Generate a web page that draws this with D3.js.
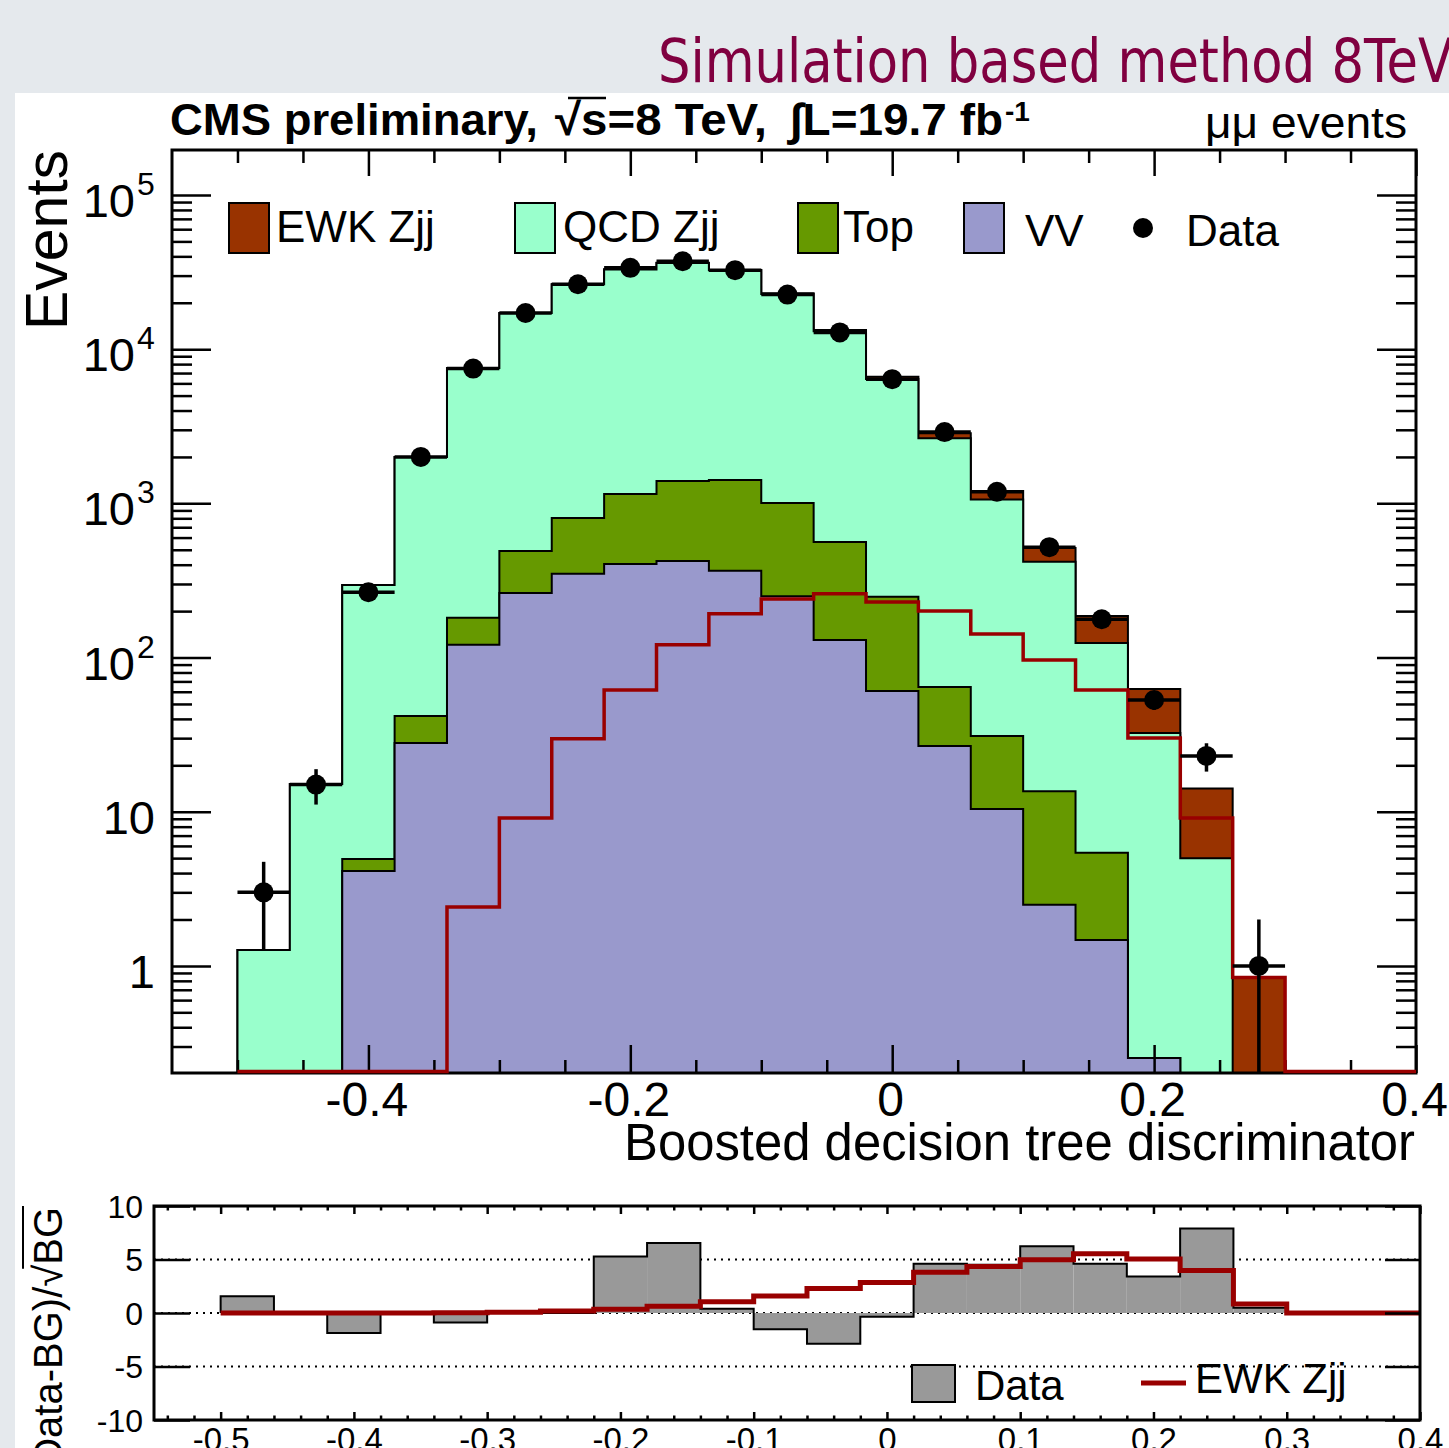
<!DOCTYPE html>
<html><head><meta charset="utf-8">
<script src="https://cdn.jsdelivr.net/npm/d3@7"></script>
<style>
body{margin:0;background:#e5e9ed;}
svg{display:block;font-family:'Liberation Sans',Arial,Helvetica,sans-serif;}
</style>
</head><body>
<svg id="c" width="1449" height="1448"></svg>
<script>
// ---------------- data ----------------
const binLow = [-0.50,-0.46,-0.42,-0.38,-0.34,-0.30,-0.26,-0.22,-0.18,-0.14,-0.10,-0.06,-0.02,0.02,0.06,0.10,0.14,0.18,0.22,0.26];
const binWidth = 0.04;
const ewkZjj = [0,0,0,0,2.41,9.12,29.7,61.6,121,192,240,259,229,200,142,96.5,61.6,30.1,9.12,0.84];
const qcdZjj = [1.27,15.1,291,1958,7367,16670,25530,31760,34870,31050,21780,12510,6158,2580,1030,404,119,32.1,5.0,0];
const topBkg = [0,0,0.81,13.9,60,229,455,746,974,1054,756,432,187,37.8,20.6,11.1,3.94,0,0,0];
const vvBkg  = [0,0,4.13,27.9,121,262,349,405,423,365,250,130,60.7,26.7,10.4,2.49,1.47,0.253,0,0];
const dataCounts = [3,15,265,2000,7480,17160,26350,33700,37200,32550,22600,12850,6390,2900,1190,520,177,53,23,1];
// lower panel: (Data-BG)/sqrt(BG) and EWK/sqrt(BG)
const sigData = [1.57,0,-1.88,0,-0.88,0,0,5.29,6.54,0.4,-1.53,-2.88,-0.35,4.6,4.5,6.23,4.6,3.41,7.89,0.5];
const sigEwk  = [0,0,0,0,0.03,0.07,0.18,0.34,0.64,1.05,1.6,2.3,2.85,3.8,4.35,4.98,5.54,5.04,3.97,0.85];
// ticks
const xMainMajor = [-0.4,-0.2,0,0.2,0.4];
const xMainMinor = [-0.5,-0.45,-0.35,-0.3,-0.25,-0.15,-0.1,-0.05,0.05,0.1,0.15,0.25,0.3,0.35];
const xMainLabels = ["-0.4","-0.2","0","0.2","0.4"];
const yMainMajor = [1,10,100,1000,10000,100000];
const yMainExp = [null,null,"2","3","4","5"];
const yMainBase = ["1","10","10","10","10","10"];
const xRatioMajor = [-0.5,-0.4,-0.3,-0.2,-0.1,0,0.1,0.2,0.3,0.4];
const xRatioLabels = ["-0.5","-0.4","-0.3","-0.2","-0.1","0","0.1","0.2","0.3","0.4"];
const yRatioTicks = [-10,-5,0,5,10];
const yRatioLabels = ["-10","-5","0","5","10"];
const yRatioGrid = [-5,0,5];

const C = {ewk:'#993300', qcd:'#99ffcc', top:'#669900', vv:'#9999cc', red:'#990000', gray:'#999999'};

// ---------------- canvas ----------------
const W=1449, H=1448;
const svg = d3.select('#c');
svg.append('rect').attr('width',W).attr('height',H).attr('fill','#e5e9ed');
svg.append('rect').attr('x',15).attr('y',93).attr('width',W-15).attr('height',H-93).attr('fill','#fff');

// title
svg.append('text').attr('x',658).attr('y',82).attr('font-size',60).attr('fill','#800040')
  .attr('font-family',"'DejaVu Sans','Liberation Sans',sans-serif")
  .attr('textLength',795).attr('lengthAdjust','spacingAndGlyphs')
  .text('Simulation based method 8TeV');

// ---------------- main panel ----------------
const PL=172, PR=1416, PT=150, PB=1073;
const x = d3.scaleLinear().domain([-0.55,0.4]).range([PL,PR]);
const y = d3.scaleLog().domain([0.202,1.958e5]).range([PB,PT]).clamp(true);
const yv = v => v>0 ? y(v) : PB;

svg.append('clipPath').attr('id','clipMain').append('rect')
  .attr('x',PL).attr('y',PT).attr('width',PR-PL).attr('height',PB-PT);

const cumVV = vvBkg.slice();
const cumTop = cumVV.map((v,i)=>v+topBkg[i]);
const cumQCD = cumTop.map((v,i)=>v+qcdZjj[i]);
const cumAll = cumQCD.map((v,i)=>v+ewkZjj[i]);

function stepPath(vals, xs, ys, base, extendTo){
  const n = vals.length;
  let p = `M${xs(binLow[0])},${base}`;
  vals.forEach((v,i)=>{
    const x0=xs(binLow[i]), x1=xs(binLow[i]+binWidth), yy=ys(v);
    p += `L${x0},${yy}L${x1},${yy}`;
  });
  p += `L${xs(binLow[n-1]+binWidth)},${base}`;
  if(extendTo!==undefined) p += `L${xs(extendTo)},${base}`;
  return p;
}

const gStack = svg.append('g').attr('clip-path','url(#clipMain)');
[[cumAll,C.ewk],[cumQCD,C.qcd],[cumTop,C.top],[cumVV,C.vv]].forEach(([vals,col])=>{
  gStack.append('path').attr('d',stepPath(vals,x,yv,PB)+'Z')
    .attr('fill',col).attr('stroke','#000').attr('stroke-width',2).attr('stroke-linejoin','miter');
});

// axes (ticks) main
function styleAxis(g){ g.select('.domain').remove(); g.selectAll('line').attr('stroke','#000').attr('stroke-width',2.5); }
svg.append('g').attr('transform',`translate(0,${PB})`).call(d3.axisTop(x).tickValues(xMainMajor).tickSize(28).tickFormat('')).call(styleAxis);
svg.append('g').attr('transform',`translate(0,${PB})`).call(d3.axisTop(x).tickValues(xMainMinor).tickSize(13).tickFormat('')).call(styleAxis);
svg.append('g').attr('transform',`translate(0,${PT})`).call(d3.axisBottom(x).tickValues(xMainMajor).tickSize(26).tickFormat('')).call(styleAxis);
svg.append('g').attr('transform',`translate(0,${PT})`).call(d3.axisBottom(x).tickValues(xMainMinor).tickSize(13).tickFormat('')).call(styleAxis);

const yMinor = [];
[-1,0,1,2,3,4,5].forEach(k=>{ for(let m=2;m<=9;m++){ const v=m*Math.pow(10,k); if(v>0.202 && v<1.958e5) yMinor.push(v);} });
svg.append('g').attr('transform',`translate(${PL},0)`).call(d3.axisRight(y).tickValues(yMainMajor).tickSize(39).tickFormat('')).call(styleAxis);
svg.append('g').attr('transform',`translate(${PL},0)`).call(d3.axisRight(y).tickValues(yMinor).tickSize(20).tickFormat('')).call(styleAxis);
svg.append('g').attr('transform',`translate(${PR},0)`).call(d3.axisLeft(y).tickValues(yMainMajor).tickSize(39).tickFormat('')).call(styleAxis);
svg.append('g').attr('transform',`translate(${PR},0)`).call(d3.axisLeft(y).tickValues(yMinor).tickSize(20).tickFormat('')).call(styleAxis);

// x labels main
const gxl = svg.append('g').attr('transform',`translate(0,${PB})`)
  .call(d3.axisBottom(x).tickValues(xMainMajor).tickSize(0).tickFormat((d,i)=>xMainLabels[i]));
gxl.select('.domain').remove();
gxl.selectAll('text').attr('y',43).attr('dy',0).attr('x',-2).attr('font-size',48).attr('fill','#000')
  .attr('font-family',"'Liberation Sans',Arial,sans-serif");

// y labels main
yMainMajor.forEach((v,i)=>{
  const ty = y(v);
  if(yMainExp[i]){
    svg.append('text').attr('x',135).attr('y',ty+22).attr('text-anchor','end').attr('font-size',47).text(yMainBase[i]);
    svg.append('text').attr('x',137).attr('y',ty).attr('font-size',32).text(yMainExp[i]);
  } else {
    svg.append('text').attr('x',155).attr('y',ty+22).attr('text-anchor','end').attr('font-size',47).text(yMainBase[i]);
  }
});

// frame
svg.append('rect').attr('x',PL).attr('y',PT).attr('width',PR-PL).attr('height',PB-PT)
  .attr('fill','none').attr('stroke','#000').attr('stroke-width',3);

// EWK line
svg.append('path').attr('d',stepPath(ewkZjj,x,v=>v>0?y(v):PB-1.5,PB-1.5,0.4))
  .attr('fill','none').attr('stroke',C.red).attr('stroke-width',3.5).attr('stroke-linejoin','miter');

// data points
const gData = svg.append('g');
dataCounts.forEach((d,i)=>{
  const cx = x(binLow[i]+binWidth/2), e=Math.sqrt(d);
  gData.append('line').attr('x1',cx).attr('x2',cx).attr('y1',yv(d+e)).attr('y2',yv(d-e)).attr('stroke','#000').attr('stroke-width',3.5);
  gData.append('line').attr('x1',x(binLow[i])).attr('x2',x(binLow[i]+binWidth)).attr('y1',y(d)).attr('y2',y(d)).attr('stroke','#000').attr('stroke-width',3.5);
  gData.append('circle').attr('cx',cx).attr('cy',y(d)).attr('r',10).attr('fill','#000');
});

// legend main
const legItems = [
  {label:'EWK Zjj', col:C.ewk, bx:229, tx:276, base:242},
  {label:'QCD Zjj', col:C.qcd, bx:515, tx:563, base:242},
  {label:'Top', col:C.top, bx:798, tx:843, base:242},
  {label:'VV', col:C.vv, bx:964, tx:1025, base:246}
];
legItems.forEach(it=>{
  svg.append('rect').attr('x',it.bx).attr('y',203).attr('width',40).attr('height',50).attr('fill',it.col).attr('stroke','#000').attr('stroke-width',2);
  svg.append('text').attr('x',it.tx).attr('y',it.base).attr('font-size',44).text(it.label);
});
svg.append('circle').attr('cx',1143).attr('cy',228).attr('r',10).attr('fill','#000');
svg.append('text').attr('x',1186).attr('y',246).attr('font-size',44).text('Data');

// header
const hdr = svg.append('g').attr('font-weight','bold').attr('font-size',45);
hdr.append('text').attr('x',170).attr('y',135).attr('textLength',368).attr('lengthAdjust','spacingAndGlyphs').text('CMS preliminary,');
hdr.append('text').attr('x',555).attr('y',135).attr('textLength',212).attr('lengthAdjust','spacingAndGlyphs').text('\u221As=8 TeV,');
svg.append('line').attr('x1',568).attr('x2',606).attr('y1',98).attr('y2',98).attr('stroke','#000').attr('stroke-width',2.5);
hdr.append('text').attr('x',790).attr('y',135).attr('textLength',213).attr('lengthAdjust','spacingAndGlyphs').text('\u222BL=19.7 fb');
hdr.append('text').attr('x',1005).attr('y',121).attr('font-size',28).text('-1');
svg.append('text').attr('x',1205).attr('y',138).attr('font-size',44).attr('textLength',202).attr('lengthAdjust','spacingAndGlyphs').text('\u03BC\u03BC events');

// y title main
svg.append('text').attr('transform','translate(67,150) rotate(-90)').attr('text-anchor','end')
  .attr('font-size',60).attr('textLength',180).attr('lengthAdjust','spacingAndGlyphs').text('Events');
// x title main
svg.append('text').attr('x',624).attr('y',1160).attr('font-size',51)
  .attr('textLength',791).attr('lengthAdjust','spacingAndGlyphs').text('Boosted decision tree discriminator');

// ---------------- ratio panel ----------------
const RL=154, RR=1420, RT=1206, RB=1420;
const x2 = d3.scaleLinear().domain([-0.55,0.4]).range([RL,RR]);
const y2 = d3.scaleLinear().domain([-10,10]).range([RB,RT]);

// grid
yRatioGrid.forEach(v=>{
  svg.append('line').attr('x1',RL).attr('x2',RR).attr('y1',y2(v)).attr('y2',y2(v))
    .attr('stroke','#000').attr('stroke-width',2).attr('stroke-dasharray','2,5');
});
// bars
sigData.forEach((v,i)=>{
  if(v===0) return;
  svg.append('rect').attr('x',x2(binLow[i])).attr('width',x2(binLow[i]+binWidth)-x2(binLow[i]))
    .attr('y',Math.min(y2(v),y2(0))).attr('height',Math.abs(y2(v)-y2(0))).attr('fill',C.gray);
});
svg.append('path').attr('d',stepPath(sigData,x2,y2,y2(0))).attr('fill','none').attr('stroke','#000').attr('stroke-width',2);
// ewk ratio line
svg.append('path').attr('d',stepPath(sigEwk,x2,y2,y2(0),0.4)).attr('fill','none').attr('stroke',C.red).attr('stroke-width',5);

// ratio axes
const xRatioMinor = [];
for(let k=-27;k<=19;k++){ const v=k*0.02; if(Math.abs(Math.round(v*10)-v*10)>1e-6) xRatioMinor.push(+v.toFixed(2)); }
svg.append('g').attr('transform',`translate(0,${RB})`).call(d3.axisTop(x2).tickValues(xRatioMajor).tickSize(8).tickFormat('')).call(styleAxis);
svg.append('g').attr('transform',`translate(0,${RB})`).call(d3.axisTop(x2).tickValues(xRatioMinor).tickSize(4.5).tickFormat('')).call(styleAxis);
svg.append('g').attr('transform',`translate(0,${RT})`).call(d3.axisBottom(x2).tickValues(xRatioMajor).tickSize(8).tickFormat('')).call(styleAxis);
svg.append('g').attr('transform',`translate(0,${RT})`).call(d3.axisBottom(x2).tickValues(xRatioMinor).tickSize(4.5).tickFormat('')).call(styleAxis);
svg.append('g').attr('transform',`translate(${RL},0)`).call(d3.axisRight(y2).tickValues(yRatioTicks).tickSize(36).tickFormat('')).call(styleAxis);
svg.append('g').attr('transform',`translate(${RR},0)`).call(d3.axisLeft(y2).tickValues(yRatioTicks).tickSize(35).tickFormat('')).call(styleAxis);
svg.append('rect').attr('x',RL).attr('y',RT).attr('width',RR-RL).attr('height',RB-RT)
  .attr('fill','none').attr('stroke','#000').attr('stroke-width',3);

const gx2 = svg.append('g').attr('transform',`translate(0,${RB})`)
  .call(d3.axisBottom(x2).tickValues(xRatioMajor).tickSize(0).tickFormat((d,i)=>xRatioLabels[i]));
gx2.select('.domain').remove();
gx2.selectAll('text').attr('y',31).attr('dy',0).attr('font-size',33).attr('fill','#000').attr('font-family',"'Liberation Sans',Arial,sans-serif");
const gy2 = svg.append('g').attr('transform',`translate(${RL},0)`)
  .call(d3.axisLeft(y2).tickValues(yRatioTicks).tickSize(0).tickFormat((d,i)=>yRatioLabels[i]));
gy2.select('.domain').remove();
gy2.selectAll('text').attr('x',-11).attr('dy','0.35em').attr('font-size',32).attr('fill','#000').attr('font-family',"'Liberation Sans',Arial,sans-serif");

// ratio y title
const yt = svg.append('g').attr('transform','translate(62,1207) rotate(-90)');
const ytt = yt.append('text').attr('text-anchor','end').attr('font-size',40).text('(Data-BG)/\u221ABG');
const ttxt = ytt.node().textContent;
const lenBG = ytt.node().getSubStringLength(ttxt.length-2,2);
yt.append('line').attr('x1',-lenBG-4).attr('x2',1).attr('y1',-39).attr('y2',-39).attr('stroke','#000').attr('stroke-width',2);

// ratio legend
svg.append('rect').attr('x',912).attr('y',1365).attr('width',43).attr('height',37).attr('fill',C.gray).attr('stroke','#000').attr('stroke-width',2);
svg.append('text').attr('x',975).attr('y',1400).attr('font-size',42).text('Data');
svg.append('line').attr('x1',1141).attr('x2',1186).attr('y1',1383).attr('y2',1383).attr('stroke',C.red).attr('stroke-width',5);
svg.append('text').attr('x',1195).attr('y',1393).attr('font-size',42).text('EWK Zjj');
</script>
</body></html>
